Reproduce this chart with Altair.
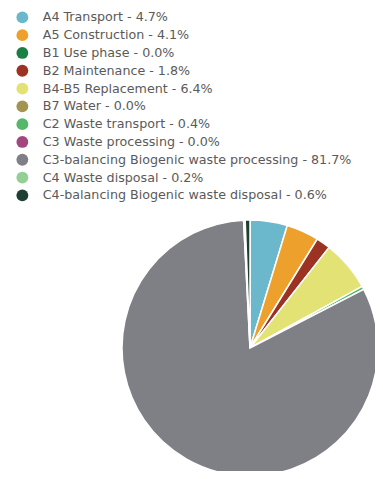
import altair as alt
import pandas as pd

categories = [
    "A4 Transport", "A5 Construction", "B1 Use phase", "B2 Maintenance",
    "B4-B5 Replacement", "B7 Water", "C2 Waste transport", "C3 Waste processing",
    "C3-balancing Biogenic waste processing", "C4 Waste disposal",
    "C4-balancing Biogenic waste disposal",
]
values = [4.7, 4.1, 0.0, 1.8, 6.4, 0.0, 0.4, 0.0, 81.7, 0.2, 0.6]
colors = [
    "#6bb8cc", "#eea02c", "#1a7f45", "#9c3222", "#e2e275", "#a39451",
    "#55b868", "#a3467f", "#7f7f86", "#92d096", "#1f3f33",
]

labels = [f"{c} - {v:.1f}%" for c, v in zip(categories, values)]
df = pd.DataFrame({"label": labels, "value": values, "order": list(range(len(values)))})

chart = alt.Chart(df).mark_arc(stroke="white", strokeWidth=1.5).encode(
    theta=alt.Theta("value:Q", stack=True),
    order=alt.Order("order:Q"),
    color=alt.Color(
        "label:N",
        sort=labels,
        scale=alt.Scale(domain=labels, range=colors),
        legend=alt.Legend(
            title=None,
            orient="none",
            legendX=8,
            legendY=3,
            symbolType="circle",
            symbolSize=140,
            symbolStrokeWidth=0,
            labelFont="DejaVu Sans",
            labelFontSize=12.7,
            labelColor="#5a5a5a",
            labelLimit=400,
            rowPadding=3.8,
            symbolOffset=0,
            labelOffset=14,
        ),
    ),
    x=alt.value(242),
    y=alt.value(340),
    radius=alt.value(128),
).properties(
    width=367, height=463, padding=0, autosize="none"
).configure_view(stroke=None)

chart.save("out.html", embed_options={"renderer": "svg", "actions": False})
